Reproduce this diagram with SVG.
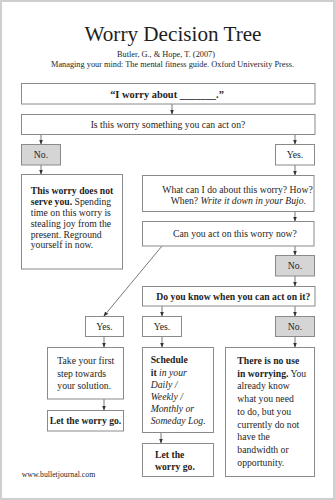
<svg xmlns="http://www.w3.org/2000/svg" width="335" height="500" viewBox="0 0 335 500">
<style>
text{font-family:'Liberation Serif','DejaVu Serif','Times New Roman',serif;fill:#1e1e1e;}
.box{fill:#fff;stroke:#8a8a8a;stroke-width:1;}
.gray{fill:#d5d5d5;stroke:#8a8a8a;stroke-width:1;}
.t{font-size:9.7px;}
.h{font-size:9.7px;}
.c{text-anchor:middle;}
.b{font-weight:bold;}
.i{font-style:italic;}
.con line{stroke:#555;stroke-width:0.8;marker-end:url(#ah);}
</style>
<defs>
<marker id="ah" markerUnits="userSpaceOnUse" markerWidth="5" markerHeight="4" refX="5" refY="2" orient="auto">
<path d="M0,0 L5,2 L0,4 z" fill="#333"/>
</marker>
</defs>
<rect x="1" y="1" width="333" height="498" fill="#fff" stroke="#cfcfcf" stroke-width="2"/>
<g font-family="Liberation Serif, serif">
<g id="title">
<text x="173" y="40.5" class="c" font-size="22" textLength="177" lengthAdjust="spacingAndGlyphs">Worry Decision Tree</text>
<text x="166" y="57" class="c" font-size="8.3">Butler, G., &amp; Hope, T. (2007)</text>
<text x="172.5" y="67" class="c" font-size="8.3">Managing your mind: The mental fitness guide. Oxford University Press.</text>
</g>
<g class="con">
<line x1="172" y1="104" x2="172" y2="114.5"/>
<line x1="41" y1="135" x2="41" y2="144.5"/>
<line x1="295" y1="135" x2="295" y2="144.5"/>
<line x1="41" y1="165" x2="41" y2="174.5"/>
<line x1="295" y1="165" x2="295" y2="175.5"/>
<line x1="295" y1="211.5" x2="295" y2="221.5"/>
<line x1="295" y1="246" x2="295" y2="255.5"/>
<line x1="295" y1="276" x2="295" y2="286.5"/>
<line x1="162" y1="246" x2="103.5" y2="316.5"/>
<line x1="162" y1="306" x2="162" y2="316.5"/>
<line x1="295" y1="306" x2="295" y2="316.5"/>
<line x1="104" y1="336.5" x2="104" y2="347.5"/>
<line x1="162" y1="336.5" x2="162" y2="347.5"/>
<line x1="295" y1="336.5" x2="295" y2="347.5"/>
<line x1="104" y1="399" x2="104" y2="410.5"/>
<line x1="161" y1="432.5" x2="161" y2="443.5"/>
</g>
<g id="worry">
<rect class="box" x="21.5" y="83.5" width="293.5" height="20.5"/>
<text x="167" y="97.8" class="c b" font-size="10.4">“I worry about _______.”</text>
</g>
<g id="act-on">
<rect class="box" x="21.5" y="114.5" width="293.5" height="20"/>
<text x="168" y="128" class="c h">Is this worry something you can act on?</text>
</g>
<g id="no1">
<rect class="gray" x="21.5" y="144.5" width="39" height="20.5"/>
<text x="41" y="158" class="c t">No.</text>
</g>
<g id="yes1">
<rect class="box" x="275.5" y="144.5" width="39" height="20.5"/>
<text x="295" y="158" class="c t">Yes.</text>
</g>
<g id="not-serve">
<rect class="box" x="21.5" y="174.5" width="101" height="94.5"/>
<text class="t" x="30.7" y="194"><tspan class="b">This worry does not</tspan></text>
<text class="t" x="30.7" y="205"><tspan class="b">serve you.</tspan> Spending</text>
<text class="t" x="30.7" y="216">time on this worry is</text>
<text class="t" x="30.7" y="226.8">stealing joy from the</text>
<text class="t" x="30.7" y="237.5">present. Reground</text>
<text class="t" x="30.7" y="248.4">yourself in now.</text>
</g>
<g id="what">
<rect class="box" x="142.5" y="175.5" width="171.5" height="36"/>
<text x="237.5" y="193" class="c t">What can I do about this worry? How?</text>
<text x="238.4" y="203.6" class="c t">When? <tspan class="i">Write it down in your Bujo.</tspan></text>
</g>
<g id="now">
<rect class="box" x="142.5" y="221.5" width="171.5" height="24.5"/>
<text x="235" y="237.3" class="c h">Can you act on this worry now?</text>
</g>
<g id="no2">
<rect class="gray" x="275.5" y="255.5" width="39" height="20.5"/>
<text x="295" y="269" class="c t">No.</text>
</g>
<g id="when">
<rect class="box" x="142.5" y="286.5" width="172.5" height="19.5"/>
<text x="233.3" y="300" class="c h b">Do you know when you can act on it?</text>
</g>
<g id="yes2">
<rect class="box" x="85.5" y="316.5" width="38" height="20"/>
<text x="104.5" y="330" class="c t">Yes.</text>
</g>
<g id="yes3">
<rect class="box" x="142.5" y="316.5" width="39" height="20"/>
<text x="162" y="330" class="c t">Yes.</text>
</g>
<g id="no3">
<rect class="gray" x="275.5" y="316.5" width="39" height="20"/>
<text x="295" y="330" class="c t">No.</text>
</g>
<g id="first-step">
<rect class="box" x="47.5" y="347.5" width="76" height="51.5"/>
<text class="t" x="57.3" y="364.3">Take your first</text>
<text class="t" x="57.3" y="376.6">step towards</text>
<text class="t" x="57.3" y="389">your solution.</text>
</g>
<g id="let-go-1">
<rect class="box" x="47.5" y="410.5" width="76" height="20.5"/>
<text x="85.5" y="423.5" class="c t b">Let the worry go.</text>
</g>
<g id="schedule">
<rect class="box" x="142.5" y="347.5" width="71" height="85"/>
<text class="t" x="150.7" y="363.3"><tspan class="b">Schedule</tspan></text>
<text class="t" x="150.7" y="375.5"><tspan class="b">it</tspan> <tspan class="i">in your</tspan></text>
<text class="t i" x="150.7" y="387.7">Daily /</text>
<text class="t i" x="150.7" y="399.9">Weekly /</text>
<text class="t i" x="150.7" y="412.1">Monthly or</text>
<text class="t i" x="150.7" y="424.3">Someday Log.</text>
</g>
<g id="let-go-2">
<rect class="box" x="142.5" y="443.5" width="71" height="33"/>
<text class="t b" x="155" y="458.3">Let the</text>
<text class="t b" x="155" y="470">worry go.</text>
</g>
<g id="no-use">
<rect class="box" x="225.5" y="347.5" width="89" height="129"/>
<text class="t" x="237.3" y="364"><tspan class="b">There is no use</tspan></text>
<text class="t" x="237.3" y="376.7"><tspan class="b">in worrying.</tspan> You</text>
<text class="t" x="237.3" y="389.4">already know</text>
<text class="t" x="237.3" y="402.1">what you need</text>
<text class="t" x="237.3" y="414.8">to do, but you</text>
<text class="t" x="237.3" y="427.5">currently do not</text>
<text class="t" x="237.3" y="440.2">have the</text>
<text class="t" x="237.3" y="452.9">bandwidth or</text>
<text class="t" x="237.3" y="465.6">opportunity.</text>
</g>
<g id="footer">
<text x="21.7" y="477" font-size="7.8">www.bulletjournal.com</text>
</g>
</g>
</svg>
